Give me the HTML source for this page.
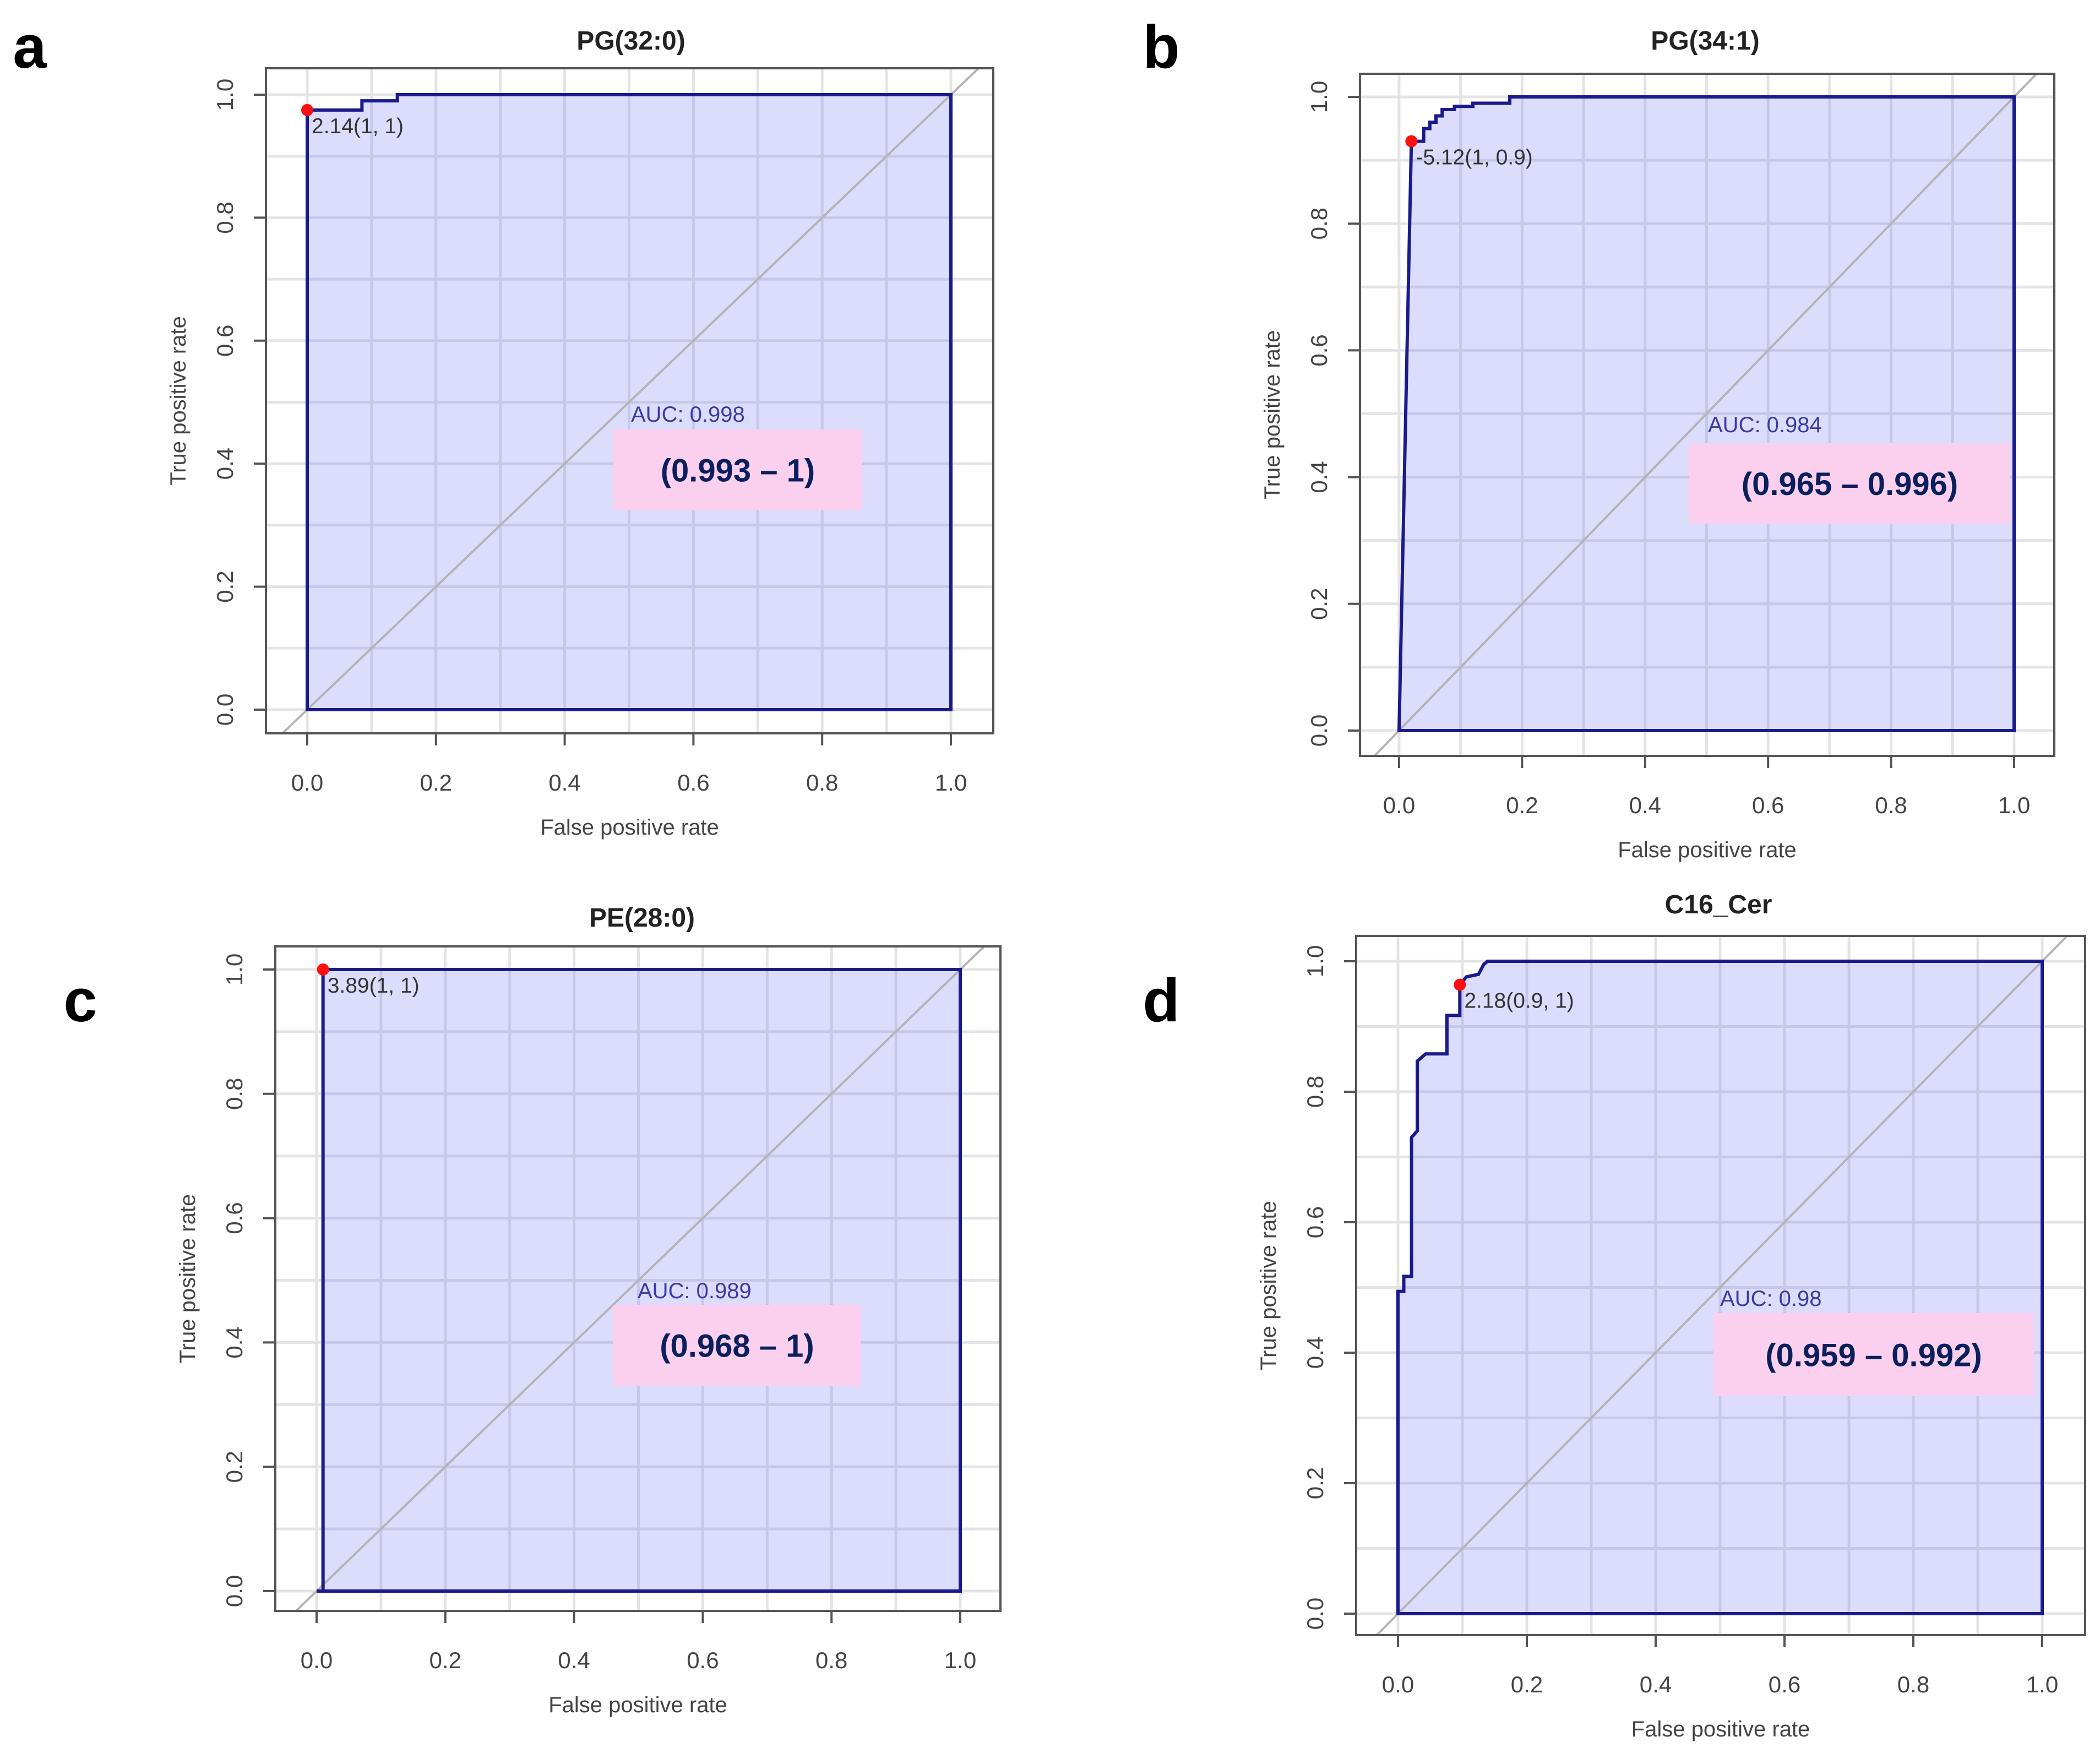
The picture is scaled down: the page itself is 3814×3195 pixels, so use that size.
<!DOCTYPE html>
<html><head><meta charset="utf-8"><style>
html,body{margin:0;padding:0;background:#fff;}
svg{display:block;}
text{font-family:"Liberation Sans",sans-serif;}
</style></head><body>
<svg id="fig" width="3814" height="3195" viewBox="0 0 3814 3195" xmlns="http://www.w3.org/2000/svg"></svg>
<script>
// ---- data ----
const titles = ["PG(32:0)", "PG(34:1)", "PE(28:0)", "C16_Cer"];
const letters = ["a", "b", "c", "d"];
const aucValues = ["0.998", "0.984", "0.989", "0.98"];
const ciLabels = ["(0.993 \u2013 1)", "(0.965 \u2013 0.996)", "(0.968 \u2013 1)", "(0.959 \u2013 0.992)"];
const rocA_fpr = [0, 0, 0.085, 0.085, 0.14, 0.14, 1];
const rocA_tpr = [0, 0.975, 0.975, 0.99, 0.99, 1, 1];
const rocB_fpr = [0, 0.02, 0.04, 0.04, 0.05, 0.05, 0.06, 0.06, 0.07, 0.07, 0.09, 0.09, 0.12, 0.12, 0.18, 0.18, 1];
const rocB_tpr = [0, 0.93, 0.93, 0.95, 0.95, 0.96, 0.96, 0.97, 0.97, 0.98, 0.98, 0.985, 0.985, 0.99, 0.99, 1, 1];
const rocC_fpr = [0, 0.01, 0.01, 1];
const rocC_tpr = [0, 0, 1, 1];
const rocD_fpr = [0, 0, 0.009, 0.009, 0.021, 0.021, 0.03, 0.03, 0.043, 0.076, 0.076, 0.096, 0.096, 0.106, 0.125, 0.133, 0.139, 1];
const rocD_tpr = [0, 0.494, 0.494, 0.517, 0.517, 0.73, 0.74, 0.847, 0.858, 0.858, 0.917, 0.917, 0.964, 0.976, 0.98, 0.995, 1, 1];
const cutFpr = [0, 0.02, 0.01, 0.096];
const cutTpr = [0.975, 0.93, 1, 0.964];
const cutLabels = ["2.14(1, 1)", "-5.12(1, 0.9)", "3.89(1, 1)", "2.18(0.9, 1)"];
const tickLabels = ["0.0", "0.2", "0.4", "0.6", "0.8", "1.0"];
const tickValues = [0, 0.2, 0.4, 0.6, 0.8, 1.0];

// ---- layout (pixels) ----
const panels = [
 {fl:483, ft:124, fr:1804, fb:1332, x0:558, x1:1727, y0:1289, y1:172, tx:1146, ty:90, lx:54, ly:85, box:[1114,780,452,147], auc:[1146,766]},
 {fl:2470, ft:134, fr:3731, fb:1373, x0:2541, x1:3658, y0:1327, y1:176, tx:3097, ty:90, lx:2109, ly:85, box:[3068,805,583,146], auc:[3102,785]},
 {fl:500, ft:1719, fr:1817, fb:2926, x0:575, x1:1744, y0:2890, y1:1761, tx:1166, ty:1683, lx:146, ly:1817, box:[1114,2370,449,147], auc:[1158,2358]},
 {fl:2463, ft:1700, fr:3787, fb:2970, x0:2539, x1:3709, y0:2931, y1:1746, tx:3121, ty:1659, lx:2109, ly:1817, box:[3112,2385,582,151], auc:[3124,2372]}
];
const rocs = [[rocA_fpr, rocA_tpr],[rocB_fpr, rocB_tpr],[rocC_fpr, rocC_tpr],[rocD_fpr, rocD_tpr]];

const NS = "http://www.w3.org/2000/svg";
const svg = document.getElementById("fig");
function mk(tag, attrs, parent, txt){
  const e = document.createElementNS(NS, tag);
  for (const k in attrs) e.setAttribute(k, attrs[k]);
  if (txt !== undefined) e.textContent = txt;
  (parent || svg).appendChild(e);
  return e;
}

panels.forEach((p, i) => {
  const sx = v => p.x0 + v * (p.x1 - p.x0);
  const sy = v => p.y0 - v * (p.y0 - p.y1);
  const g = mk("g", {});
  
  
  const cid = "clip" + i;
  const cp = mk("clipPath", {id: cid}, g);
  mk("rect", {x:p.fl, y:p.ft, width:p.fr-p.fl, height:p.fb-p.ft}, cp);
  const inner = mk("g", {"clip-path": "url(#" + cid + ")"}, g);
  const grid = mk("g", {}, inner);
  
  
  for (let k = -2; k <= 12; k++) {
    const v = k / 10;
    mk("line", {x1:sx(v), x2:sx(v), y1:p.ft, y2:p.fb, stroke:"#e4e4e4", "stroke-width":5}, grid);
    mk("line", {x1:p.fl, x2:p.fr, y1:sy(v), y2:sy(v), stroke:"#e4e4e4", "stroke-width":5}, grid);
  }
  const [fx, ty] = rocs[i];
  let pts = fx.map((v, j) => sx(v) + "," + sy(ty[j]));
  pts.push(sx(1) + "," + sy(0));
  const poly = mk("polygon", {points: pts.join(" "), fill:"rgba(110,110,245,0.24)", stroke:"none"}, inner);
  
  
  const diag = mk("line", {x1:sx(-0.3), y1:sy(-0.3), x2:sx(1.3), y2:sy(1.3), stroke:"#b4b4b4", "stroke-width":4}, inner);
  
  
  const curve = mk("polygon", {points: pts.join(" "), fill:"none", stroke:"#1a1a8c", "stroke-width":6, "stroke-linejoin":"miter"}, inner);
  
  
  const fr = mk("rect", {x:p.fl, y:p.ft, width:p.fr-p.fl, height:p.fb-p.ft, fill:"none", stroke:"#555", "stroke-width":4}, g);
  
  
  tickValues.forEach((v, k) => {
    mk("line", {x1:sx(v), x2:sx(v), y1:p.fb, y2:p.fb+22, stroke:"#555", "stroke-width":4}, g);
    mk("line", {x1:p.fl, x2:p.fl-22, y1:sy(v), y2:sy(v), stroke:"#555", "stroke-width":4}, g);
    const xt = mk("text", {x:sx(v), y:p.fb+104, "font-size":42, fill:"#444", "text-anchor":"middle"}, g, tickLabels[k]);
    
    
    const yx = p.fl - 60, yy = sy(v);
    const yt = mk("text", {x:yx, y:yy, "font-size":42, fill:"#444", "text-anchor":"middle", transform:"rotate(-90 " + yx + " " + yy + ")"}, g, tickLabels[k]);
    
    
  });
  const xtl = mk("text", {x:(p.fl+p.fr)/2, y:p.fb+184, "font-size":40, fill:"#444", "text-anchor":"middle"}, g, "False positive rate");
  
  
  const ytx = p.fl - 146, yty = (p.ft + p.fb) / 2;
  const ytl = mk("text", {x:ytx, y:yty, "font-size":40, fill:"#444", "text-anchor":"middle", transform:"rotate(-90 " + ytx + " " + yty + ")"}, g, "True positive rate");
  
  
  const tt = mk("text", {x:p.tx, y:p.ty, "font-size":48, "font-weight":"bold", fill:"#222", "text-anchor":"middle"}, g, titles[i]);
  
  
  const lt = mk("text", {x:p.lx, y:p.ly+38, "font-size":110, "font-weight":"bold", fill:"#000", "text-anchor":"middle"}, g, letters[i]);
  
  
  const dot = mk("circle", {cx:sx(cutFpr[i]), cy:sy(cutTpr[i]), r:11, fill:"#ff1010"}, g);
  
  
  const cl = mk("text", {x:sx(cutFpr[i])+8, y:sy(cutTpr[i])+42, "font-size":39, fill:"#333"}, g, cutLabels[i]);
  
  
  const at = mk("text", {x:p.auc[0], y:p.auc[1], "font-size":40, fill:"#3a3aa8"}, g, "AUC: " + aucValues[i]);
  
  
  const b = p.box;
  const br = mk("rect", {x:b[0], y:b[1], width:b[2], height:b[3], fill:"#fbd0ef"}, g);
  
  
  const ct = mk("text", {x:b[0]+b[2]/2, y:b[1]+b[3]/2+21, "font-size":58, "font-weight":"bold", fill:"#0a1f5c", "text-anchor":"middle"}, g, ciLabels[i]);
  
  
});
</script>
</body></html>
